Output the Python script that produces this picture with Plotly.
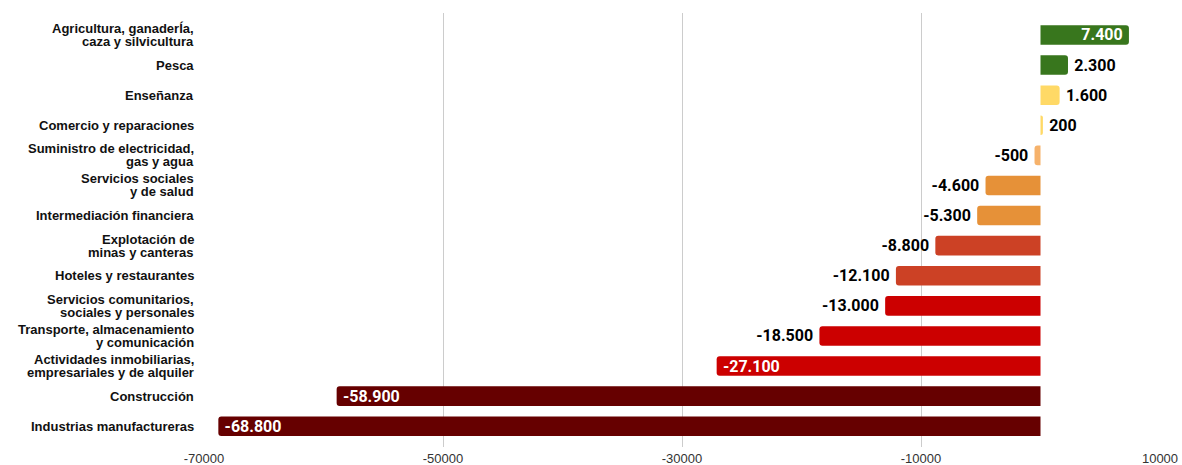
import plotly.graph_objects as go

# Variación del empleo por rama de actividad
sectores = [
    "Agricultura, ganaderÍa,<br>caza y silvicultura",
    "Pesca",
    "Enseñanza",
    "Comercio y reparaciones",
    "Suministro de electricidad,<br>gas y agua",
    "Servicios sociales<br>y de salud",
    "Intermediación financiera",
    "Explotación de<br>minas y canteras",
    "Hoteles y restaurantes",
    "Servicios comunitarios,<br>sociales y personales",
    "Transporte, almacenamiento<br>y comunicación",
    "Actividades inmobiliarias,<br>empresariales y de alquiler",
    "Construcción",
    "Industrias manufactureras",
]
variacion = [7400, 2300, 1600, 200, -500, -4600, -5300, -8800, -12100,
             -13000, -18500, -27100, -58900, -68800]
colores = ["#38761d", "#38761d", "#ffd966", "#ffd966", "#f6b26b", "#e69138",
           "#e69138", "#cc4125", "#cc4125", "#cc0000", "#cc0000", "#cc0000",
           "#660000", "#660000"]
# which value labels sit inside the bar
dentro = [True, False, False, False, False, False, False, False, False,
          False, False, True, True, True]

tick_vals = [-70000, -50000, -30000, -10000, 10000]
tick_text = ["-70000", "-50000", "-30000", "-10000", "10000"]

posiciones = list(range(len(sectores)))


def etiqueta(v):
    s = f"{v:,}".replace(",", ".")
    # small gap between the bar end and the label
    return "\u2009" + s if v >= 0 else s + "\u2009"


def etiqueta_interior(v):
    s = f"{v:,}".replace(",", ".")
    return s + "\u2009" if v >= 0 else "\u2009" + s


etiquetas = [etiqueta_interior(v) if d else etiqueta(v)
             for v, d in zip(variacion, dentro)]

fig = go.Figure(go.Bar(
    x=variacion,
    y=posiciones,
    orientation="h",
    marker=dict(color=colores, line=dict(width=0)),
    text=etiquetas,
    textposition=["inside" if d else "outside" for d in dentro],
    insidetextanchor="end",
    textfont=dict(family="Roboto", size=16, weight="bold",
                  color=["#ffffff" if d else "#000000" for d in dentro]),
    cliponaxis=False,
    hoverinfo="skip",
))

# Category labels: one annotation per line so wrapped names keep tight spacing
for i, nombre in enumerate(sectores):
    lineas = nombre.split("<br>")
    n = len(lineas)
    for j, linea in enumerate(lineas):
        fig.add_annotation(
            x=0, xref="paper", xanchor="right", xshift=-8,
            y=i, yref="y", yanchor="middle",
            yshift=(n - 1) / 2 * 13 - j * 13,
            text=linea, showarrow=False,
            font=dict(family="Liberation Sans, Arial, sans-serif", size=13,
                      weight="bold", color="#111111"),
        )

fig.update_layout(
    width=1182,
    height=465,
    margin=dict(l=204, r=22, t=13, b=18),
    paper_bgcolor="#ffffff",
    plot_bgcolor="#ffffff",
    bargap=0.35,
    barcornerradius=3,
    showlegend=False,
    uniformtext=dict(minsize=16, mode="show"),
    font=dict(family="Liberation Sans, Arial, sans-serif", color="#222222"),
)

fig.update_xaxes(
    range=[-70000, 10000],
    tickvals=tick_vals,
    ticktext=tick_text,
    tickfont=dict(size=13, color="#333333"),
    ticklabelstandoff=2,
    showgrid=True,
    gridcolor="#cccccc",
    gridwidth=1,
    zeroline=False,
    showline=False,
    ticks="",
    automargin=False,
)

fig.update_yaxes(
    range=[13.69, -0.73],
    showticklabels=False,
    showgrid=False,
    zeroline=False,
    showline=False,
    ticks="",
    automargin=False,
)

fig.write_html("out.html")
